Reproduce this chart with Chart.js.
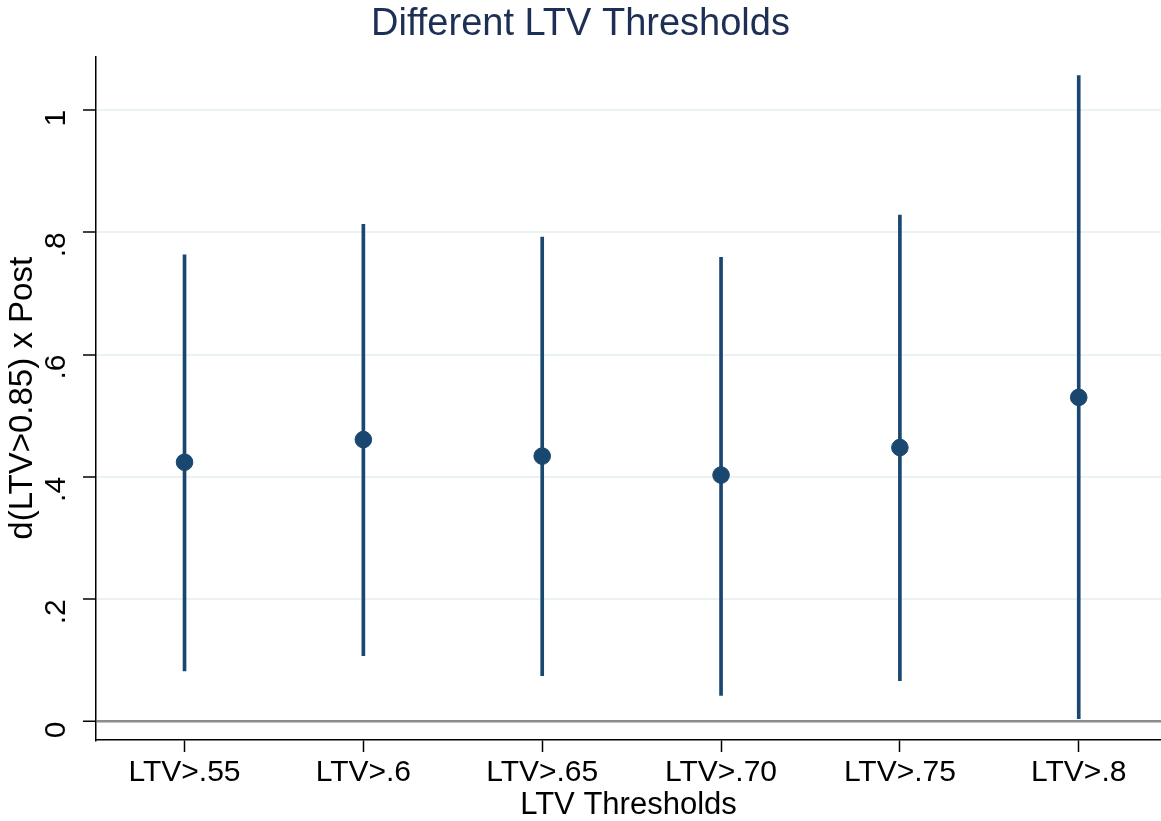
<!DOCTYPE html>
<html>
<head>
<meta charset="utf-8">
<script src="https://cdn.jsdelivr.net/npm/chart.js@4"></script>
<style>
  body { margin: 0; background: #fff; }
  #wrap { width: 1161px; height: 821px; }
</style>
</head>
<body>
<div id="wrap"><canvas id="myChart"></canvas></div>
<script>
let categories = ['LTV>.55', 'LTV>.6', 'LTV>.65', 'LTV>.70', 'LTV>.75', 'LTV>.8'];
let estimates = [0.424, 0.461, 0.434, 0.403, 0.448, 0.530];
let lower = [0.083, 0.108, 0.075, 0.043, 0.067, 0.005];
let upper = [0.763, 0.813, 0.792, 0.759, 0.828, 1.056];
let yTicks = [0, 0.2, 0.4, 0.6, 0.8, 1];
let yTickLabels = ['0', '.2', '.4', '.6', '.8', '1'];

let navy = '#1a476f';
let font = 'Liberation Sans, Arial, sans-serif';

let ctx = document.getElementById('myChart').getContext('2d');

let myChart = new Chart(ctx, {
	data: {
		datasets: [{
			type: 'bar',
			data: categories.map((c, i) => ({ x: i + 1, y: [lower[i], upper[i]] })),
			backgroundColor: navy,
			barThickness: 3,
			order: 2
		}, {
			type: 'scatter',
			data: categories.map((c, i) => ({ x: i + 1, y: estimates[i] })),
			backgroundColor: navy,
			borderColor: navy,
			pointRadius: 8.3,
			order: 1
		}]
	},
	options: {
		responsive: true,
		maintainAspectRatio: false,
		animation: false,
		layout: { padding: 0, autoPadding: false },
		plugins: {
			legend: { display: false },
			tooltip: { enabled: false },
			title: {
				display: true,
				text: 'Different LTV Thresholds',
				color: '#1e2f55',
				font: { family: font, size: 38, weight: 'normal' },
				padding: { top: 2, bottom: 9 }
			}
		},
		scales: {
			x: {
				type: 'linear',
				offset: false,
				min: 0.505,
				max: 6.46,
				afterBuildTicks: (scale) => {
					scale.ticks = categories.map((c, i) => ({ value: i + 1 }));
				},
				afterFit: (scale) => { scale.height = 81; },
				ticks: {
					callback: (value) => categories[value - 1],
					color: '#000',
					font: { family: font, size: 30 },
					maxRotation: 0,
					minRotation: 0,
					padding: 3
				},
				grid: {
					offset: false,
					drawOnChartArea: false,
					drawTicks: true,
					tickLength: 12,
					tickColor: '#000',
					tickWidth: 1.5
				},
				border: { color: '#000', width: 1.5 },
				title: {
					display: true,
					text: 'LTV Thresholds',
					color: '#000',
					font: { family: font, size: 31, lineHeight: 1 },
					padding: { top: 0, bottom: 0 }
				}
			},
			y: {
				min: -0.03,
				max: 1.087,
				afterBuildTicks: (scale) => {
					scale.ticks = yTicks.map(v => ({ value: v }));
				},
				afterFit: (scale) => { scale.width = 96; },
				ticks: {
					callback: (value) => yTickLabels[yTicks.indexOf(value)],
					color: '#000',
					font: { family: font, size: 30 },
					minRotation: 90,
					maxRotation: 90,
					padding: 26
				},
				grid: {
					color: (c) => c.tick && c.tick.value === 0 ? '#8c8c8c' : '#eaf2f3',
					lineWidth: (c) => c.tick && c.tick.value === 0 ? 2.5 : 2,
					drawTicks: true,
					tickLength: 13,
					tickColor: '#000',
					tickWidth: 1.5
				},
				border: { color: '#000', width: 1.5 },
				title: {
					display: true,
					text: 'd(LTV>0.85) x Post',
					color: '#000',
					font: { family: font, size: 33, lineHeight: 1 },
					padding: { top: 6, bottom: 0 }
				}
			}
		}
	}
});
</script>
</body>
</html>
